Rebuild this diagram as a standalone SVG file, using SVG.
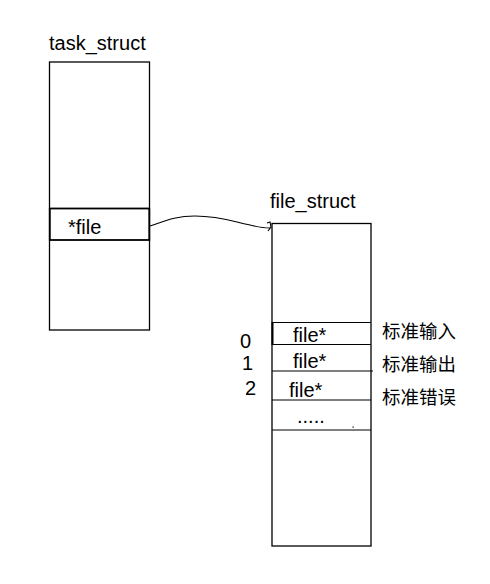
<svg xmlns="http://www.w3.org/2000/svg" width="490" height="584" viewBox="0 0 490 584">
<style>
.box{fill:#fff;stroke:#000;stroke-width:1.3}
.ln{stroke:#000;stroke-width:1.1;fill:none}
.t{font-family:"Liberation Sans","Noto Sans CJK SC",sans-serif;font-size:20px;fill:#000}
.cn{font-family:"Noto Sans CJK SC",sans-serif;font-size:18.5px;fill:#000}
</style>
<rect width="490" height="584" fill="#fff"/>
<g id="task_struct">
<text class="t" x="49" y="50">task_struct</text>
<rect class="box" x="49.5" y="62" width="100" height="268"/>
<rect x="49.8" y="208.5" width="99.5" height="31.5" fill="none" stroke="#000" stroke-width="1.8"/>
<text class="t" x="68" y="234">*file</text>
</g>
<g id="file_struct">
<text class="t" x="270" y="208">file_struct</text>
<rect class="box" x="272" y="223.5" width="99" height="322.5"/>
<line class="ln" x1="272" y1="322.5" x2="371" y2="322.5"/>
<line class="ln" x1="272" y1="344.5" x2="371" y2="344.5"/>
<line x1="272.5" y1="322" x2="272.5" y2="345" stroke="#000" stroke-width="2"/>
<line class="ln" x1="272" y1="371" x2="373" y2="371"/>
<line class="ln" x1="272" y1="400" x2="371" y2="400"/>
<line class="ln" x1="272" y1="430" x2="371" y2="430"/>
<text class="t" x="293" y="342">file*</text>
<text class="t" x="293" y="368">file*</text>
<text class="t" x="289" y="397">file*</text>
<text class="t" x="297" y="423">.....</text>
<rect x="352.5" y="426.5" width="1.2" height="1.2" fill="#000"/>
<text class="t" x="240" y="348">0</text>
<text class="t" x="242" y="370">1</text>
<text class="t" x="245" y="395">2</text>
<text class="cn" x="382" y="338">标准输入</text>
<text class="cn" x="382" y="371">标准输出</text>
<text class="cn" x="382" y="404">标准错误</text>
</g>
<g id="connectors">
<path class="ln" d="M150,226 C165,221 175,216 195,216 C220,216 235,222 250,225 C258,227 263,228 270,228"/>
<path class="ln" d="M267,223 L270,222 L271,227 L268,231"/>
</g>
</svg>
